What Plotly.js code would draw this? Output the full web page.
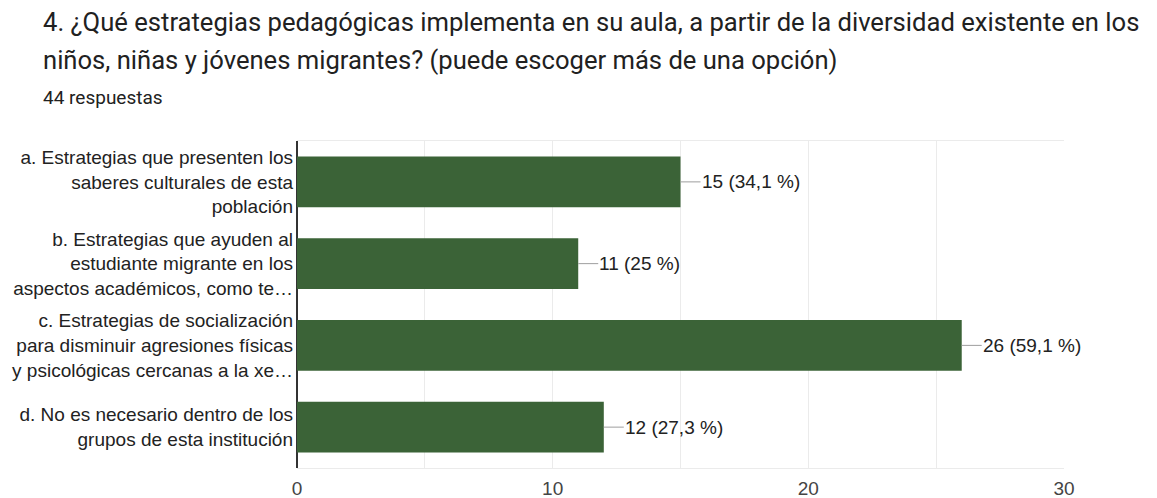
<!DOCTYPE html>
<html>
<head>
<meta charset="utf-8">
<script src="https://cdn.plot.ly/plotly-3.0.1.min.js"></script>
<style>html,body{margin:0;padding:0;background:#fff;}#chart{width:1157px;height:498px;}</style>
</head>
<body>
<div id="chart"></div>
<script>
const titleLines = [
  "4. ¿Qué estrategias pedagógicas implementa en su aula, a partir de la diversidad existente en los",
  "niños, niñas y jóvenes migrantes? (puede escoger más de una opción)"
];
const subtitle = "44 respuestas";
const totalResponses = 44;
const categories = [
  "a. Estrategias que presenten los<br>saberes culturales de esta<br>población",
  "b. Estrategias que ayuden al<br>estudiante migrante en los<br>aspectos académicos, como te…",
  "c. Estrategias de socialización<br>para disminuir agresiones físicas<br>y psicológicas cercanas a la xe…",
  "d. No es necesario dentro de los<br>grupos de esta institución"
];
const counts = [15, 11, 26, 12];
const xTicks = [0, 10, 20, 30];

function pctLabel(v) {
  let p = (v / totalResponses * 100).toFixed(1);
  if (p.endsWith(".0")) p = p.slice(0, -2);
  return v + " (" + p.replace(".", ",") + " %)";
}

const W = 1157, H = 498;
const mL = 297, mR = 93, mT = 141, mB = 30;
const plotH = H - mT - mB, plotW = W - mL - mR;
const py = (px) => (H - mB - px) / plotH;
const px = (x) => (x - mL) / plotW;

const annotations = counts.map((v, i) => ({
  x: v, y: categories[i], xref: "x", yref: "y",
  text: pctLabel(v), showarrow: true, arrowhead: 0, arrowwidth: 1,
  arrowcolor: "#9e9e9e", ax: 20, ay: 0, standoff: 0,
  xanchor: "left", yanchor: "middle", borderpad: 0,
  font: {family: "Liberation Sans, Arial, sans-serif", size: 19, color: "#222222"}
}));

annotations.push(
  {xref: "paper", yref: "paper", x: px(41), y: py(22), xanchor: "left", yanchor: "middle",
   text: titleLines[0], showarrow: false,
   font: {family: "Roboto, sans-serif", size: 25.6, color: "#212121"}},
  {xref: "paper", yref: "paper", x: px(41), y: py(60), xanchor: "left", yanchor: "middle",
   text: titleLines[1], showarrow: false,
   font: {family: "Roboto, sans-serif", size: 25.6, color: "#212121"}},
  {xref: "paper", yref: "paper", x: px(41), y: py(97), xanchor: "left", yanchor: "middle",
   text: subtitle, showarrow: false,
   font: {family: "Roboto, sans-serif", size: 19, color: "#212121"}}
);

const data = [{
  type: "bar", orientation: "h",
  x: counts, y: categories,
  marker: {color: "#3b6337", line: {width: 0}},
  width: 0.62, hoverinfo: "none"
}];

const layout = {
  width: W, height: H,
  margin: {l: mL, r: mR, t: mT, b: mB, pad: 0},
  paper_bgcolor: "#ffffff", plot_bgcolor: "#ffffff",
  showlegend: false,
  xaxis: {
    range: [0, 30], tickvals: xTicks, ticktext: xTicks.map(String),
    showgrid: true, gridcolor: "#ebebeb", gridwidth: 1,
    minor: {dtick: 5, showgrid: true, gridcolor: "#ebebeb", gridwidth: 1},
    zeroline: true, zerolinecolor: "#333333", zerolinewidth: 2,
    showline: true, mirror: true, linecolor: "#ebebeb", linewidth: 1,
    ticks: "", ticklabelstandoff: 3,
    tickfont: {family: "Liberation Sans, Arial, sans-serif", size: 19, color: "#444444"},
    fixedrange: true
  },
  yaxis: {
    autorange: "reversed", showgrid: false, zeroline: false, showline: false,
    ticks: "", ticklabelstandoff: 3,
    tickfont: {family: "Liberation Sans, Arial, sans-serif", size: 19, color: "#222222"},
    fixedrange: true
  },
  annotations: annotations
};

Plotly.newPlot("chart", data, layout, {displayModeBar: false, staticPlot: true});
</script>
</body>
</html>
